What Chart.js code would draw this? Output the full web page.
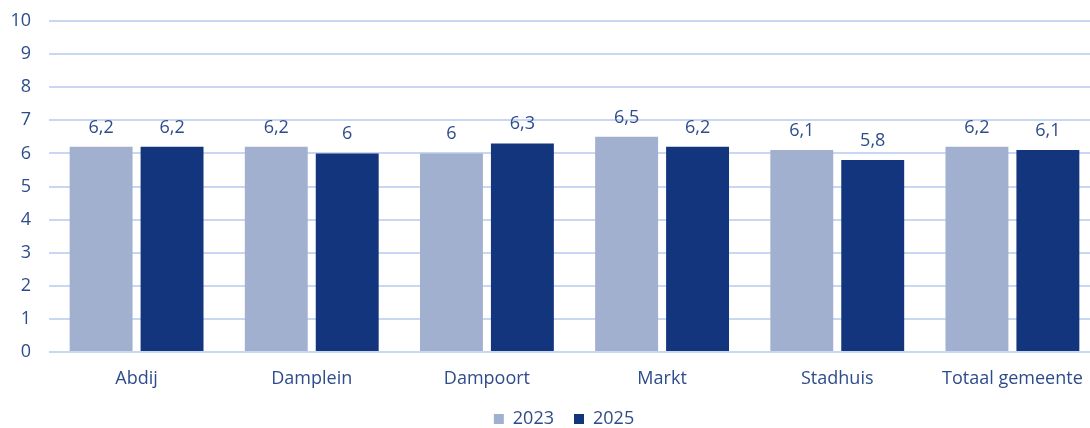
<!DOCTYPE html>
<html>
<head>
<meta charset="utf-8">
<script src="https://cdn.jsdelivr.net/npm/chart.js@4"></script>
<style>
  html, body { margin: 0; padding: 0; background: #ffffff; overflow: hidden; }
  #wrap { width: 1090px; height: 428px; position: relative; overflow: hidden; }
  #chart { position: absolute; left: 0; top: 0; }
</style>
</head>
<body>
<div id="wrap"><canvas id="chart" width="1100" height="428"></canvas></div>
<script>
// Scores per location, 2023 vs 2025
const categories = ['Abdij', 'Damplein', 'Dampoort', 'Markt', 'Stadhuis', 'Totaal gemeente'];
const values2023 = [6.2, 6.2, 6.0, 6.5, 6.1, 6.2];
const values2025 = [6.2, 6.0, 6.3, 6.2, 5.8, 6.1];
const seriesLabels = ['2023', '2025'];
const yTicks = [0, 1, 2, 3, 4, 5, 6, 7, 8, 9, 10];

const textColor = '#2e4c8c';
const gridColor = '#c9d7f2';
const FONT = "'Open Sans', 'Noto Sans', sans-serif";

// Draws the value above each bar using Dutch decimal comma
const valueLabels = {
  id: 'valueLabels',
  afterDatasetsDraw(chart) {
    const ctx = chart.ctx;
    ctx.save();
    ctx.font = `18px ${FONT}`;
    ctx.fillStyle = textColor;
    ctx.textAlign = 'center';
    ctx.textBaseline = 'alphabetic';
    chart.data.datasets.forEach((ds, di) => {
      chart.getDatasetMeta(di).data.forEach((bar, i) => {
        const txt = String(ds.data[i]).replace('.', ',');
        ctx.fillText(txt, bar.x, bar.y - 14);
      });
    });
    ctx.restore();
  }
};

// Nudges the legend a little to the right of the canvas centre
const legendOffset = {
  id: 'legendOffset',
  afterLayout(chart) {
    const lg = chart.legend;
    if (lg) { lg.left += 14; lg.right += 14; }
  }
};

new Chart(document.getElementById('chart'), {
  type: 'bar',
  data: {
    labels: categories,
    datasets: [
      { label: seriesLabels[0], data: values2023, backgroundColor: '#a2b0cf' },
      { label: seriesLabels[1], data: values2025, backgroundColor: '#13357d' }
    ]
  },
  options: {
    responsive: false,
    animation: false,
    devicePixelRatio: 1,
    layout: { padding: { top: 21, right: 0, bottom: 0, left: 0 } },
    datasets: { bar: { categoryPercentage: 0.81, barPercentage: 0.887 } },
    plugins: {
      legend: {
        position: 'bottom',
        maxHeight: 38,
        labels: {
          color: textColor,
          font: { family: FONT, size: 18 },
          boxWidth: 10,
          boxHeight: 10,
          padding: 20
        }
      },
      tooltip: { enabled: false }
    },
    scales: {
      x: {
        grid: { display: false, drawTicks: false },
        border: { display: false },
        ticks: { color: textColor, font: { family: FONT, size: 18 }, padding: 16 },
        afterFit(scale) {
          scale.height = 38;
          scale.paddingLeft = 0;
          scale.paddingRight = 0;
        }
      },
      y: {
        min: 0,
        max: 10,
        afterBuildTicks(scale) { scale.ticks = yTicks.map(v => ({ value: v })); },
        grid: { color: gridColor, lineWidth: 2, drawTicks: false },
        border: { display: false },
        ticks: { color: textColor, font: { family: FONT, size: 18 }, padding: 18 },
        afterFit(scale) {
          scale.width = 49;
          scale.paddingTop = 0;
          scale.paddingBottom = 0;
        }
      }
    }
  },
  plugins: [valueLabels, legendOffset]
});
</script>
</body>
</html>
